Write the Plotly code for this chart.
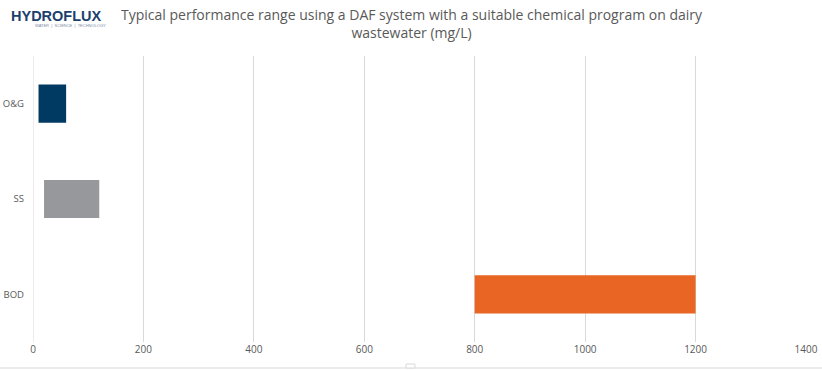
import plotly.graph_objects as go

categories = ["O&G", "SS", "BOD"]
low_values = [10, 20, 800]
high_values = [60, 120, 1200]
bar_colors = ["#003a63", "#97989b", "#e86524"]
x_ticks = [0, 200, 400, 600, 800, 1000, 1200, 1400]

widths = [h - l for h, l in zip(high_values, low_values)]

fig = go.Figure()
fig.add_trace(go.Bar(
    y=categories, x=widths, base=low_values, orientation="h",
    marker=dict(color=bar_colors, line=dict(width=0)),
    hoverinfo="skip", showlegend=False,
))

L, R, T, B = 33, 16, 56, 28
W, H = 822, 370
PW = W - L - R
PH = H - T - B

fig.update_layout(
    width=W, height=H,
    margin=dict(l=L, r=R, t=T, b=B, autoexpand=False),
    paper_bgcolor="white", plot_bgcolor="white",
    bargap=0.6,
    font=dict(family="Open Sans, sans-serif", color="#595959"),
    xaxis=dict(
        range=[0, 1400], tickvals=x_ticks, ticktext=[str(v) for v in x_ticks],
        showgrid=True, gridcolor="#d9d9d9", gridwidth=1,
        zeroline=False, showline=False, ticks="", automargin=False,
        tickfont=dict(size=10, color="#595959"),
    ),
    yaxis=dict(
        categoryorder="array", categoryarray=categories, autorange="reversed",
        showgrid=False, zeroline=False, showline=False, ticks="", automargin=False,
        tickfont=dict(size=9.5, color="#595959"), ticklabelstandoff=8,
    ),
    annotations=[
        dict(text="Typical performance range using a DAF system with a suitable chemical program on dairy<br>wastewater (mg/L)",
             xref="paper", yref="paper", x=(412 - L) / PW, y=1 + (T - 3) / PH, xanchor="center", yanchor="top",
             showarrow=False, font=dict(size=14, color="#595959", family="Open Sans, sans-serif")),
        dict(text="<b>HYDROFLUX</b>", xref="paper", yref="paper", x=(9 - L) / PW, y=1 + (T - 6) / PH,
             xanchor="left", yanchor="top", showarrow=False,
             font=dict(size=14.5, color="#1c3f6e", family="Liberation Sans, Arial, sans-serif")),
        dict(text="WATER  |  SCIENCE  |  TECHNOLOGY", xref="paper", yref="paper", x=(33 - L) / PW, y=1 + (T - 21) / PH,
             xanchor="left", yanchor="top", showarrow=False,
             font=dict(size=4, color="#7a8aa5", family="Liberation Sans, sans-serif")),
    ],
)
# vertical axis line at 0 spanning plot area
fig.add_shape(type="line", xref="x", yref="paper", x0=0, x1=0, y0=0, y1=1,
              line=dict(color="#d9d9d9", width=1), layer="below")
# bottom page border line
yb = -(368 - (H - B)) / PH
fig.add_shape(type="line", xref="paper", yref="paper", x0=-L / PW, x1=1 + R / PW, y0=yb, y1=yb,
              line=dict(color="#d9d9d9", width=1))
# small tab on the bottom border
fig.add_shape(type="rect", xref="paper", yref="paper",
              x0=(406 - L) / PW, x1=(415 - L) / PW, y0=yb, y1=yb + 4 / PH,
              line=dict(color="#d9d9d9", width=1), fillcolor="white")

fig.write_html("out.html", config={"displayModeBar": False},
               post_script="document.body.style.margin='0px';document.body.style.overflow='hidden';")
